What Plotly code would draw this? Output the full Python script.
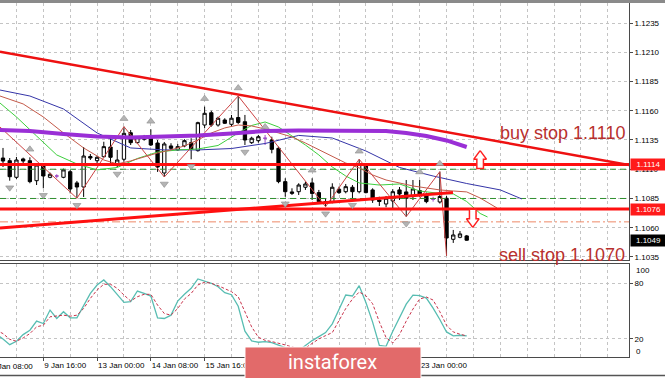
import plotly.graph_objects as go

# ---------------- data ----------------
candle_idx = list(range(70))
open_ = [1.11196, 1.11173, 1.11031, 1.11188, 1.11173, 1.11002, 1.11130, 1.11031, 1.11042, 1.11031,
         1.11079, 1.10983, 1.10948, 1.11209, 1.11173, 1.11207, 1.11290, 1.11136, 1.11185, 1.11412,
         1.11327, 1.11356, 1.11365, 1.11324, 1.11068, 1.11299, 1.11265, 1.11299, 1.11327, 1.11259,
         1.11478, 1.11583, 1.11478, 1.11521, 1.11484, 1.11542, 1.11506, 1.11327, 1.11344, 1.11365,
         1.11350, 1.11279, 1.10994, 1.10906, 1.10908, 1.10946, 1.10983, 1.10900, 1.10823, 1.10823,
         1.10929, 1.10908, 1.10946, 1.10908, 1.11128, 1.10923, 1.10837, 1.10803, 1.10829, 1.10923,
         1.10906, 1.10871, 1.10918, 1.10880, 1.10843, 1.10820, 1.10852, 1.10501, 1.10518, 1.10530]
high_ = [1.11282, 1.11196, 1.11205, 1.11199, 1.11202, 1.11151, 1.11145, 1.11071, 1.11057, 1.11105,
         1.11094, 1.11000, 1.11290, 1.11230, 1.11213, 1.11335, 1.11367, 1.11265, 1.11464, 1.11435,
         1.11384, 1.11393, 1.11441, 1.11350, 1.11333, 1.11322, 1.11316, 1.11356, 1.11365, 1.11506,
         1.11635, 1.11600, 1.11549, 1.11536, 1.11564, 1.11726, 1.11564, 1.11378, 1.11393, 1.11393,
         1.11378, 1.11293, 1.11023, 1.10937, 1.10980, 1.10994, 1.11023, 1.10923, 1.10852, 1.10980,
         1.10951, 1.10974, 1.10965, 1.11185, 1.11151, 1.10937, 1.10865, 1.10871, 1.10929, 1.10948,
         1.11008, 1.11008, 1.11008, 1.10900, 1.10865, 1.11079, 1.10871, 1.10581, 1.10572, 1.10538]
low_ = [1.11119, 1.11002, 1.11017, 1.11136, 1.10980, 1.10965, 1.10937, 1.11023, 1.11023, 1.11023,
        1.10894, 1.10852, 1.10863, 1.11179, 1.11136, 1.11202, 1.11153, 1.11119, 1.11165, 1.11307,
        1.11316, 1.11344, 1.11299, 1.11077, 1.11034, 1.11265, 1.11259, 1.11288, 1.11185, 1.11250,
        1.11450, 1.11464, 1.11464, 1.11487, 1.11464, 1.11487, 1.11307, 1.11316, 1.11327, 1.11307,
        1.11236, 1.10980, 1.10865, 1.10880, 1.10880, 1.10923, 1.10837, 1.10809, 1.10780, 1.10809,
        1.10888, 1.10894, 1.10852, 1.10894, 1.10894, 1.10812, 1.10786, 1.10775, 1.10758, 1.10837,
        1.10695, 1.10837, 1.10865, 1.10809, 1.10823, 1.10807, 1.10359, 1.10470, 1.10510, 1.10489]
close_ = [1.11170, 1.11036, 1.11179, 1.11170, 1.10994, 1.11136, 1.11042, 1.11057, 1.11042, 1.11094,
          1.10931, 1.10948, 1.11213, 1.11196, 1.11202, 1.11293, 1.11202, 1.11179, 1.11407, 1.11327,
          1.11370, 1.11378, 1.11307, 1.11119, 1.11316, 1.11279, 1.11293, 1.11344, 1.11270, 1.11498,
          1.11578, 1.11478, 1.11536, 1.11493, 1.11536, 1.11500, 1.11350, 1.11365, 1.11378, 1.11365,
          1.11270, 1.10994, 1.10908, 1.10894, 1.10965, 1.10974, 1.10893, 1.10823, 1.10809, 1.10946,
          1.10900, 1.10951, 1.10908, 1.11145, 1.10900, 1.10837, 1.10824, 1.10852, 1.10908, 1.10888,
          1.10852, 1.10931, 1.10888, 1.10823, 1.10843, 1.10867, 1.10512, 1.10538, 1.10547, 1.10493]
doji_idx = [8, 39, 64]

purple_x = [-0.45, 4, 9, 14, 19, 24, 29, 34, 39, 44, 49, 54, 57, 60, 63, 66, 69]
purple_y = [1.11435, 1.11427, 1.11401, 1.11380, 1.11371, 1.11376, 1.11389, 1.11406, 1.11427,
            1.11431, 1.11431, 1.11431, 1.11427, 1.11410, 1.11384, 1.11346, 1.11290]
blue_x = [-0.45, 4, 9, 14, 19, 24, 29, 34, 39, 44, 49, 54, 59, 64, 69, 74, 77.2]
blue_y = [1.11777, 1.11726, 1.11615, 1.11410, 1.11282, 1.11265, 1.11265, 1.11277, 1.11320,
          1.11389, 1.11367, 1.11256, 1.11115, 1.11042, 1.10978, 1.10923, 1.10846]
green_x = [-0.45, 2, 5, 8, 11, 14, 17, 20, 23, 26, 29, 32, 35, 37, 39, 41, 43, 45, 47, 49,
           51, 53, 56, 59, 62, 65, 67, 69, 71, 72.1]
green_y = [1.11666, 1.11547, 1.11384, 1.11222, 1.11145, 1.11094, 1.11115, 1.11192, 1.11247,
           1.11265, 1.11273, 1.11303, 1.11410, 1.11474, 1.11504, 1.11461, 1.11384, 1.11307,
           1.11222, 1.11119, 1.11042, 1.10983, 1.10965, 1.10974, 1.10914, 1.10893, 1.10889,
           1.10824, 1.10722, 1.10692]
red_x = [-0.45, 3, 6, 9, 12, 15, 17, 19, 21, 23, 25, 27, 29, 31, 33, 35, 37, 39, 41, 43, 45,
         47, 49, 51, 53, 55, 57, 59, 61, 63, 65, 67, 69, 71, 73.5]
red_y = [1.11726, 1.11658, 1.11547, 1.11410, 1.11282, 1.11179, 1.11145, 1.11171, 1.11205,
         1.11239, 1.11265, 1.11299, 1.11350, 1.11410, 1.11453, 1.11478, 1.11470, 1.11444,
         1.11410, 1.11376, 1.11324, 1.11265, 1.11205, 1.11153, 1.11111, 1.11051, 1.11008,
         1.10983, 1.10957, 1.10940, 1.10923, 1.10914, 1.10906, 1.10854, 1.10769]
zigzag_x = [-0.45, 11, 18, 24, 35, 48, 53, 60, 65, 66]
zigzag_y = [1.11461, 1.10852, 1.11464, 1.11034, 1.11726, 1.10780, 1.11185, 1.10695, 1.11079, 1.10359]

down_tl_x = [-0.45, 93.15]
down_tl_y = [1.12105, 1.11136]
up_tl_x = [-0.45, 66.96]
up_tl_y = [1.10598, 1.10900]
solid_levels = [1.1114, 1.1076]
green_dash_levels = [1.1110, 1.1085]
dashdot_level = 1.1065

fractal_up_idx = [4, 18, 22, 30, 35, 39, 46, 53, 62, 65]
fractal_dn_idx = [1, 6, 11, 17, 24, 28, 36, 42, 48, 52, 60, 66]

stoch_x = list(range(-1, 70))
stoch_main = [25, 20, 13.8, 17.5, 24.7, 29.5, 39.3, 36.7, 51.3, 42.2, 49.5, 42.9, 42.9, 56.7,
              69.4, 78.5, 84, 76.7, 67.6, 59.6, 60.4, 72, 69.4, 66.5, 42.9, 42.2, 45.8, 61.1,
              68.4, 74.9, 85.1, 82.9, 80.4, 76.7, 70.2, 68, 55.5, 28.4, 17.8, 16.4, 17.1, 16,
              13.1, 10.5, 8, 7.3, 13.1, 18.2, 22.5, 26.9, 36.4, 52, 67.6, 66.6, 77.8, 59.6, 38.2,
              13, 12, 28.4, 44, 57.8, 67.6, 66.9, 64.4, 53.5, 41.1, 27.6, 23.3, 24, 23.3]
stoch_signal = [29.5, 25.8, 19.6, 17.5, 21.1, 25.8, 33.1, 34.9, 44, 44.7, 45.8, 44.7, 45.8, 53,
                64, 73.1, 79.3, 79.3, 74.9, 67.6, 61.1, 65.8, 68.4, 68.4, 56.7, 47.6, 45.8, 53,
                63.3, 69.4, 78.6, 81.5, 80.4, 77.8, 74.9, 71.3, 65.8, 49.5, 33.1, 21.8, 18.5,
                17.1, 15.6, 13.5, 11.3, 9.5, 10.2, 15.3, 20, 23.6, 26.9, 40, 53, 63.3, 70.9, 66.9,
                58.2, 38.5, 21.5, 15.6, 24.7, 39.3, 52.4, 63.3, 65.5, 62.2, 49.5, 34.9, 27.6,
                25.1, 23.3]

# time axis: ticks every 8 bars; labels hidden under the logo are not shown in the reference
grid_tick_idx = [6, 14, 22, 30, 38, 46, 54, 62]
label_idx = [6, 14, 22, 30, 62]
label_text = ["9 Jan 16:00", "13 Jan 00:00", "14 Jan 08:00", "15 Jan 16:00", "23 Jan 00:00"]
first_label_idx = -2
first_label_text = "8 Jan 08:00"
price_ticks = [1.1035, 1.1060, 1.1085, 1.1110, 1.1135, 1.1160, 1.1185, 1.1210, 1.1235]
stoch_ticks = [20, 80]

up_arrow = (71.0, 1.11259)
down_arrow = (69.9, 1.10603)

# ---------------- scales (px -> units) ----------------
PX_X = 1 / 6.72
PX_Y = 0.00008547
XR = [-0.446, 93.15]
YR = [1.10324, 1.12521]

GRID = "#c4c4c4"
FONT = "Liberation Sans"

fig = go.Figure()

def hline(level, color, width, dash="solid", x0=XR[0], x1=XR[1]):
    fig.add_trace(go.Scatter(x=[x0, x1], y=[level, level], mode="lines",
                             line=dict(color=color, width=width, dash=dash),
                             hoverinfo="skip", xaxis="x", yaxis="y"))

for lv in green_dash_levels:
    hline(lv, "#2f8f2f", 1, "6px,4px")
hline(dashdot_level, "#ee8866", 1, "8px,3px,2px,3px")

for xs, ys, col, w in [(blue_x, blue_y, "#3535a8", 1), (green_x, green_y, "#3ecf3e", 1),
                       (red_x, red_y, "#c45a4a", 1), (zigzag_x, zigzag_y, "#cc4444", 1)]:
    fig.add_trace(go.Scatter(x=xs, y=ys, mode="lines", line=dict(color=col, width=w),
                             hoverinfo="skip", xaxis="x", yaxis="y"))

for lv in solid_levels:
    hline(lv, "#ff1010", 3)
fig.add_trace(go.Scatter(x=down_tl_x, y=down_tl_y, mode="lines",
                         line=dict(color="#ee1111", width=2.5), hoverinfo="skip"))
fig.add_trace(go.Scatter(x=up_tl_x, y=up_tl_y, mode="lines",
                         line=dict(color="#ff1010", width=3), hoverinfo="skip"))
fig.add_trace(go.Scatter(x=purple_x, y=purple_y, mode="lines",
                         line=dict(color="#9a2fd6", width=4), hoverinfo="skip"))

# candles
norm = [i for i in candle_idx if i not in doji_idx]
fig.add_trace(go.Candlestick(
    x=norm, open=[open_[i] for i in norm], high=[high_[i] for i in norm],
    low=[low_[i] for i in norm], close=[close_[i] for i in norm],
    increasing=dict(line=dict(color="black", width=1), fillcolor="white"),
    decreasing=dict(line=dict(color="black", width=1), fillcolor="black"),
    whiskerwidth=0, hoverinfo="skip", xaxis="x", yaxis="y"))
fig.add_trace(go.Candlestick(
    x=doji_idx, open=[open_[i] for i in doji_idx], high=[high_[i] for i in doji_idx],
    low=[low_[i] for i in doji_idx], close=[close_[i] for i in doji_idx],
    increasing=dict(line=dict(color="#a04cc8", width=1), fillcolor="#a04cc8"),
    decreasing=dict(line=dict(color="#a04cc8", width=1), fillcolor="#a04cc8"),
    whiskerwidth=0, hoverinfo="skip", xaxis="x", yaxis="y"))

# fractal arrows
fig.add_trace(go.Scatter(x=fractal_up_idx, y=[high_[i] + 8 * PX_Y for i in fractal_up_idx],
                         mode="markers", hoverinfo="skip",
                         marker=dict(symbol="triangle-up", size=7, color="#b4b4b4",
                                     line=dict(color="#8c8c8c", width=0.6))))
fig.add_trace(go.Scatter(x=fractal_dn_idx, y=[low_[i] - 7 * PX_Y for i in fractal_dn_idx],
                         mode="markers", hoverinfo="skip",
                         marker=dict(symbol="triangle-down", size=7, color="#b4b4b4",
                                     line=dict(color="#8c8c8c", width=0.6))))

# hollow arrows
def arrow_poly(cx, tip, direction):
    hw, sw, hh, L = 6.3 * PX_X, 3.3 * PX_X, 8.5 * PX_Y, 18 * PX_Y
    d = -direction
    xs = [cx, cx + hw, cx + sw, cx + sw, cx - sw, cx - sw, cx - hw, cx]
    ys = [tip, tip + d * hh, tip + d * hh, tip + d * L, tip + d * L, tip + d * hh, tip + d * hh, tip]
    return xs, ys

for (cx, tip), dr in [(up_arrow, 1), (down_arrow, -1)]:
    xs, ys = arrow_poly(cx, tip, dr)
    fig.add_trace(go.Scatter(x=xs, y=ys, mode="lines", fill="toself", fillcolor="white",
                             line=dict(color="#ff2020", width=1.5), hoverinfo="skip"))

# stochastic
fig.add_trace(go.Scatter(x=stoch_x, y=stoch_main, mode="lines", xaxis="x2", yaxis="y2",
                         line=dict(color="#58bdb2", width=1.3), hoverinfo="skip"))
fig.add_trace(go.Scatter(x=stoch_x, y=stoch_signal, mode="lines", xaxis="x2", yaxis="y2",
                         line=dict(color="#c8344c", width=1, dash="3px,2px"), hoverinfo="skip"))

axis_common = dict(showline=True, mirror=True, linecolor="#4a4a4a", linewidth=1,
                   zeroline=False, tickfont=dict(family=FONT, size=8, color="black"))
xgrid = dict(showgrid=True, gridcolor=GRID, griddash="dot", gridwidth=1,
             minor=dict(tick0=2, dtick=4, showgrid=True, gridcolor=GRID, griddash="dot",
                        gridwidth=1, ticks=""))

fig.update_layout(
    width=665, height=378, margin=dict(l=0, r=36, t=3, b=21),
    paper_bgcolor="white", plot_bgcolor="white", showlegend=False,
    font=dict(family=FONT, size=8, color="black"),
    xaxis=dict(domain=[0, 1], range=XR, anchor="y", tickvals=grid_tick_idx,
               showticklabels=False, ticks="", rangeslider=dict(visible=False),
               **xgrid, **axis_common),
    yaxis=dict(domain=[0.274, 1], range=YR, side="right", anchor="x",
               tickvals=price_ticks, tickformat=".4f", ticks="outside", ticklen=3,
               tickcolor="#4a4a4a", showgrid=True, gridcolor=GRID, griddash="dot",
               **axis_common),
    xaxis2=dict(domain=[0, 1], range=XR, anchor="y2", matches="x", tickvals=label_idx,
                ticktext=label_text, ticklabelposition="outside right", ticks="outside",
                tickangle=0, ticklen=3, tickcolor="#4a4a4a", rangeslider=dict(visible=False),
                **xgrid, **axis_common),
    yaxis2=dict(domain=[0, 0.264], range=[0.4, 101.8], side="right", anchor="x2",
                tickvals=stoch_ticks, ticks="outside", ticklen=3, tickcolor="#4a4a4a",
                showgrid=True, gridcolor=GRID, griddash="dot", **axis_common),
)

ann = []
ann.append(dict(text="buy stop 1.1110", x=92.86, y=1.11406, xref="x", yref="y",
                xanchor="right", yanchor="middle", showarrow=False,
                font=dict(family=FONT, size=18, color="#b8302e")))
ann.append(dict(text="sell stop 1.1070", x=92.86, y=1.10364, xref="x", yref="y",
                xanchor="right", yanchor="middle", showarrow=False,
                font=dict(family=FONT, size=18, color="#b8302e")))
for lv, bg in [(solid_levels[0], "#ff1a1a"), (solid_levels[1], "#ff1a1a"), (close_[-1], "black")]:
    ann.append(dict(text=f"{lv:.4f}", x=1, y=lv, xref="paper", yref="y", xanchor="left",
                    yanchor="middle", xshift=1, showarrow=False, bgcolor=bg, width=33,
                    align="center", borderpad=1,
                    font=dict(family=FONT, size=8, color="white")))
for val, txt in [(94.2, "100"), (6.9, "0")]:
    ann.append(dict(text=txt, x=1, y=val, xref="paper", yref="y2", xanchor="left",
                    yanchor="middle", xshift=5, showarrow=False,
                    font=dict(family=FONT, size=8, color="black")))
first_label_paper = (first_label_idx - XR[0]) / (XR[1] - XR[0])
ann.append(dict(text=first_label_text, x=first_label_paper, y=-0.0085, xref="paper",
                yref="paper", xanchor="left", yanchor="top", showarrow=False, xshift=-1,
                font=dict(family=FONT, size=8, color="black")))
ann.append(dict(text="instaforex", x=0.528, y=-0.0141, xref="paper", yref="paper",
                xanchor="center", yanchor="middle", showarrow=False,
                font=dict(family="Roboto", size=20, color="white")))
fig.update_layout(annotations=ann)

fig.update_layout(shapes=[
    dict(type="rect", xref="paper", yref="paper", x0=0, x1=1.06, y0=1.0, y1=1.0085,
         fillcolor="#8a8a8a", line=dict(width=0), layer="above"),
    dict(type="line", xref="paper", yref="paper", x0=0, x1=1.06, y0=-0.052, y1=-0.052,
         line=dict(color="#555555", width=1.5), layer="above"),
    dict(type="rect", xref="paper", yref="paper", x0=0.3895, x1=0.6693, y0=-0.07, y1=0.0283,
         fillcolor="#e26a6a", line=dict(color="white", width=1), layer="above"),
])

fig.write_html("out.html", config={"displayModeBar": False},
               post_script="document.body.style.margin='0px';")
